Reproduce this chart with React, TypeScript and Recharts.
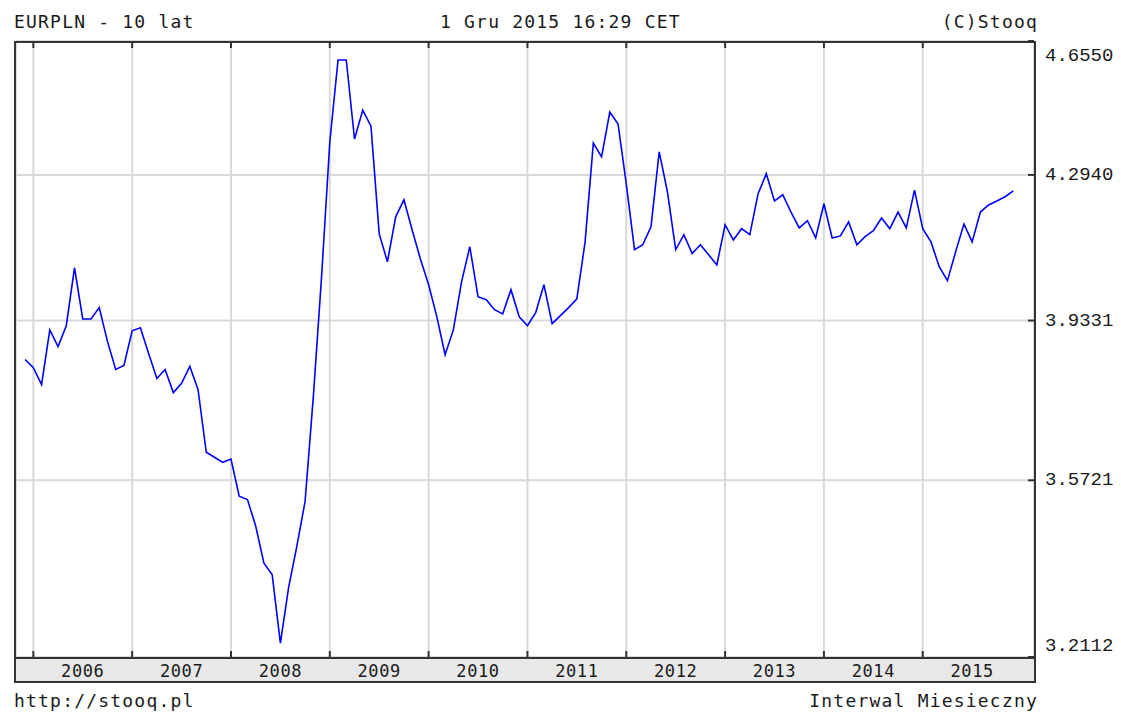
import { CartesianGrid, Line, LineChart, XAxis, YAxis } from "recharts";

// EUR/PLN monthly, Dec 2005 .. Dec 2015
const dec2005 = [3.842];
const y2006 = [3.823, 3.784, 3.911, 3.872, 3.921, 4.06, 3.937, 3.937, 3.964, 3.884, 3.819, 3.828];
const y2007 = [3.909, 3.916, 3.856, 3.798, 3.819, 3.766, 3.787, 3.826, 3.773, 3.633, 3.622, 3.611];
const y2008 = [3.618, 3.538, 3.531, 3.475, 3.398, 3.375, 3.238, 3.349, 3.433, 3.527, 3.757, 4.038];
const y2009 = [4.38, 4.602, 4.602, 4.388, 4.465, 4.422, 4.144, 4.075, 4.187, 4.23, 4.154, 4.082];
const y2010 = [4.019, 3.942, 3.853, 3.911, 4.026, 4.112, 3.99, 3.983, 3.959, 3.949, 4.007, 3.942];
const y2011 = [3.921, 3.952, 4.019, 3.926, 3.945, 3.964, 3.985, 4.124, 4.377, 4.341, 4.46, 4.428];
const y2012 = [4.271, 4.105, 4.117, 4.162, 4.354, 4.25, 4.105, 4.142, 4.095, 4.117, 4.092, 4.067];
const y2013 = [4.167, 4.129, 4.157, 4.142, 4.245, 4.297, 4.227, 4.243, 4.199, 4.159, 4.177, 4.134];
const y2014 = [4.22, 4.134, 4.139, 4.174, 4.117, 4.137, 4.152, 4.184, 4.157, 4.199, 4.159, 4.255];
const y2015 = [4.157, 4.124, 4.063, 4.029, 4.1, 4.169, 4.124, 4.199, 4.217, 4.227, 4.238, 4.253];

const years = [2006, 2007, 2008, 2009, 2010, 2011, 2012, 2013, 2014, 2015];
const yTicks = [3.2112, 3.5721, 3.9331, 4.294, 4.655];

const series = [
  ...dec2005, ...y2006, ...y2007, ...y2008, ...y2009, ...y2010,
  ...y2011, ...y2012, ...y2013, ...y2014, ...y2015,
];

// index 0 = Dec 2005
const data = series.map((value, i) => {
  const m = 11 + i;
  const month = `${2005 + Math.floor(m / 12)}-${String((m % 12) + 1).padStart(2, "0")}`;
  return { idx: i, month, value };
});
const yearStarts = years.map((y) => (y - 2005) * 12 - 11);

const W = 1121;
const H = 712;
const PLOT_LEFT = 16;
const PLOT_RIGHT = 1034;
const PLOT_TOP = 41;
const PLOT_BOTTOM = 657;
const X_MIN = -1.105;
const X_MAX = 122.51;
const HALF_YEAR = ((PLOT_RIGHT - PLOT_LEFT) / (X_MAX - X_MIN)) * 6;

const FRAME = "#333";
const TEXT = "#1a1a1a";
const MONO = "'DejaVu Sans Mono', monospace";

function YearTick({ x, payload }: any) {
  const year = years[yearStarts.indexOf(payload.value)];
  return (
    <g>
      <line x1={x} x2={x} y1={PLOT_BOTTOM} y2={PLOT_BOTTOM - 6} stroke={FRAME} strokeWidth={2} />
      <line x1={x} x2={x} y1={PLOT_TOP} y2={PLOT_TOP + 7} stroke={FRAME} strokeWidth={2} />
      <text
        x={x + HALF_YEAR}
        y={PLOT_BOTTOM + 14}
        textAnchor="middle"
        dominantBaseline="central"
        fontFamily={MONO}
        fontSize={17}
        letterSpacing={0.6}
        fill={TEXT}
      >
        {year}
      </text>
    </g>
  );
}

function PriceTick({ y, payload }: any) {
  const v = payload.value;
  let shift = 0;
  if (v === yTicks[yTicks.length - 1]) shift = 15;
  if (v === yTicks[0]) shift = -11;
  return (
    <g>
      <line x1={PLOT_RIGHT - 6} x2={PLOT_RIGHT} y1={y} y2={y} stroke={FRAME} strokeWidth={2} />
      <text
        x={PLOT_RIGHT + 11}
        y={y + shift}
        dominantBaseline="central"
        fontFamily="'Liberation Mono', monospace"
        fontSize={19}
        fill={TEXT}
      >
        {v.toFixed(4)}
      </text>
    </g>
  );
}

const textStyle: React.CSSProperties = {
  position: "absolute",
  fontFamily: MONO,
  fontSize: 18,
  letterSpacing: "1.2px",
  lineHeight: "18px",
  color: TEXT,
  whiteSpace: "nowrap",
};

export default function App() {
  return (
    <div style={{ position: "absolute", left: 0, top: 0, width: W, height: H, background: "#fff" }}>
      <style>{"body{margin:0}"}</style>
      <div style={{ ...textStyle, left: 14, top: 13 }}>EURPLN - 10 lat</div>
      <div style={{ ...textStyle, left: 440, top: 13 }}>1 Gru 2015 16:29 CET</div>
      <div style={{ ...textStyle, right: W - 1038, top: 13 }}>(C)Stooq</div>
      <div style={{ ...textStyle, left: 14, top: 692 }}>http://stooq.pl</div>
      <div style={{ ...textStyle, right: W - 1038, top: 692 }}>Interwal Miesieczny</div>

      <div style={{ position: "absolute", left: 16, top: 659, width: 1018, height: 22, background: "#e8e8e8" }} />

      <div style={{ position: "absolute", left: 0, top: 0 }}>
        <LineChart
          width={W}
          height={H}
          data={data}
          margin={{ top: PLOT_TOP, left: PLOT_LEFT, right: W - PLOT_RIGHT - 80, bottom: H - PLOT_BOTTOM - 25 }}
        >
          <CartesianGrid stroke="#d9d9d9" strokeWidth={2} />
          <XAxis
            dataKey="idx"
            type="number"
            domain={[X_MIN, X_MAX]}
            allowDataOverflow
            ticks={yearStarts}
            interval={0}
            height={25}
            axisLine={false}
            tickLine={false}
            tick={<YearTick />}
          />
          <YAxis
            orientation="right"
            type="number"
            scale="log"
            domain={[yTicks[0], yTicks[yTicks.length - 1]]}
            allowDataOverflow
            ticks={yTicks}
            interval={0}
            width={80}
            axisLine={false}
            tickLine={false}
            tick={<PriceTick />}
          />
          <Line
            type="linear"
            dataKey="value"
            stroke="#0000ff"
            strokeWidth={1.6}
            dot={false}
            isAnimationActive={false}
          />
        </LineChart>
      </div>

      <div
        style={{
          position: "absolute",
          left: 14,
          top: 41,
          width: 1022,
          height: 642,
          border: `2px solid ${FRAME}`,
          boxSizing: "border-box",
          pointerEvents: "none",
        }}
      />
      <div style={{ position: "absolute", left: 14, top: 657, width: 1022, height: 2, background: FRAME }} />
    </div>
  );
}
